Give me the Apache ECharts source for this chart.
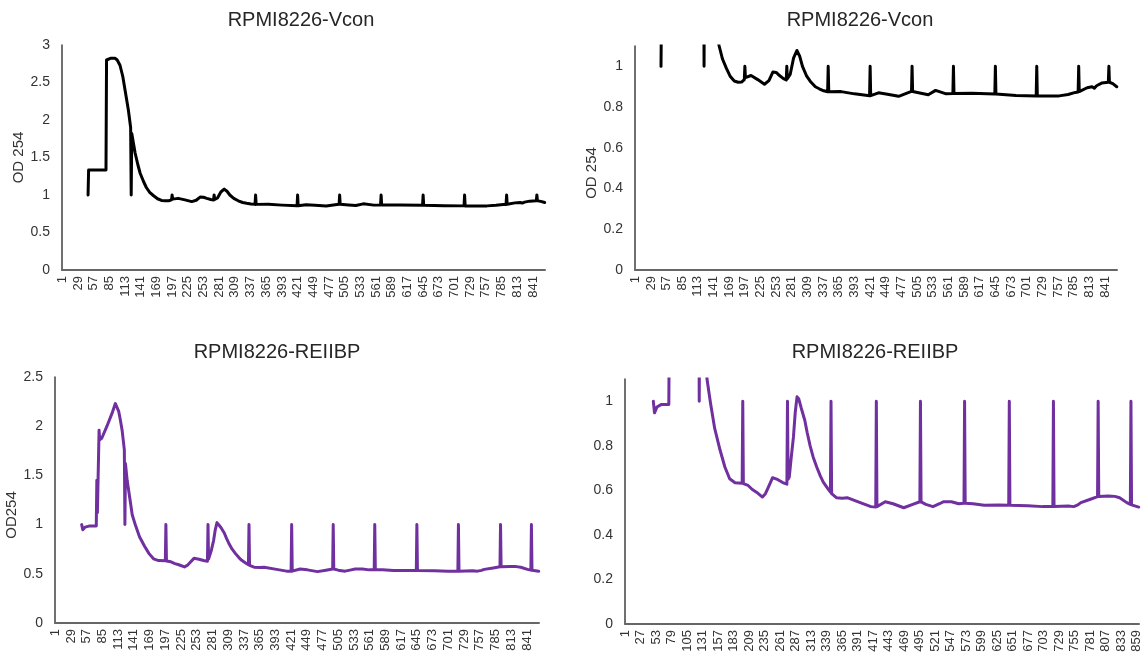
<!DOCTYPE html>
<html>
<head>
<meta charset="utf-8">
<script src="https://cdn.jsdelivr.net/npm/echarts@6/dist/echarts.min.js"></script>
<style>
  html, body { margin: 0; padding: 0; background: #ffffff; }
  #chart { width: 1144px; height: 660px; }
</style>
</head>
<body>
<div id="chart"></div>
<script>
// ---- data (sample number, OD254) ----
const sampleCount = 862;
const sampleLabels = [];
for (let i = 1; i <= sampleCount; i++) sampleLabels.push(String(i));

const panelTitles = ['RPMI8226-Vcon', 'RPMI8226-Vcon', 'RPMI8226-REIIBP', 'RPMI8226-REIIBP'];

const vconSample = [47, 48, 79, 80, 88, 95, 99, 104, 109, 113, 119, 123, 124, 125, 131, 136, 140, 146, 151, 157, 164, 171, 178, 185, 191, 196, 197, 198, 208, 220, 232, 240, 247, 253, 259, 266, 271, 272, 273, 278, 284, 290, 295, 300, 307, 315, 323, 330, 338, 345, 346, 347, 369, 393, 420, 421, 422, 436, 452, 472, 488, 495, 496, 497, 512, 525, 538, 557, 569, 570, 571, 603, 644, 645, 646, 682, 718, 719, 720, 759, 775, 788, 793, 794, 795, 809, 818, 822, 826, 835, 847, 848, 849, 855, 862];
const vconOD254 = [1.0, 1.333, 1.333, 2.80, 2.825, 2.825, 2.80, 2.73, 2.58, 2.40, 2.13, 1.90, 1.0, 1.82, 1.56, 1.40, 1.29, 1.18, 1.10, 1.036, 0.99, 0.95, 0.928, 0.922, 0.923, 0.935, 1.0, 0.945, 0.955, 0.935, 0.912, 0.93, 0.972, 0.97, 0.955, 0.94, 0.933, 1.0, 0.94, 0.96, 1.04, 1.078, 1.05, 1.0, 0.955, 0.923, 0.9, 0.89, 0.88, 0.875, 1.0, 0.875, 0.876, 0.865, 0.856, 1.0, 0.856, 0.87, 0.863, 0.853, 0.87, 0.877, 1.0, 0.877, 0.868, 0.861, 0.882, 0.865, 0.867, 1.0, 0.867, 0.868, 0.864, 1.0, 0.864, 0.857, 0.855, 1.0, 0.855, 0.855, 0.862, 0.872, 0.874, 1.0, 0.876, 0.895, 0.90, 0.893, 0.905, 0.918, 0.922, 1.0, 0.922, 0.915, 0.90];

const reiibpSample = [48, 50, 54, 61, 74, 75, 76, 78, 79, 80, 84, 93, 102, 108, 111, 114, 117, 120, 124, 125, 126, 129, 135, 138, 144, 151, 160, 168, 176, 185, 197, 198, 199, 207, 214, 221, 231, 236, 241, 248, 257, 265, 272, 273, 274, 276, 279, 283, 286, 289, 292, 296, 302, 306, 311, 316, 322, 328, 333, 340, 345, 346, 347, 355, 365, 373, 395, 413, 421, 422, 423, 437, 450, 468, 483, 495, 496, 497, 505, 517, 528, 535, 548, 560, 569, 570, 571, 584, 603, 627, 644, 645, 646, 676, 701, 718, 719, 720, 744, 753, 760, 765, 781, 793, 794, 795, 811, 822, 830, 842, 848, 849, 850, 862];
const reiibpOD254 = [1.0, 0.948, 0.974, 0.985, 0.985, 1.45, 1.12, 1.12, 1.96, 1.86, 1.88, 2.0, 2.13, 2.23, 2.22, 2.15, 2.06, 1.96, 1.76, 1.0, 1.62, 1.45, 1.22, 1.1, 0.99, 0.877, 0.78, 0.705, 0.652, 0.634, 0.632, 1.0, 0.63, 0.622, 0.604, 0.592, 0.57, 0.585, 0.615, 0.657, 0.648, 0.635, 0.628, 1.0, 0.65, 0.66, 0.74, 0.84, 0.95, 1.02, 1.01, 0.97, 0.915, 0.86, 0.80, 0.75, 0.705, 0.665, 0.637, 0.61, 0.592, 1.0, 0.585, 0.567, 0.565, 0.567, 0.545, 0.527, 0.525, 1.0, 0.527, 0.549, 0.54, 0.522, 0.537, 0.549, 1.0, 0.548, 0.537, 0.527, 0.54, 0.549, 0.549, 0.54, 0.542, 1.0, 0.542, 0.54, 0.533, 0.534, 0.533, 1.0, 0.533, 0.531, 0.527, 0.527, 1.0, 0.527, 0.53, 0.527, 0.535, 0.545, 0.56, 0.572, 1.0, 0.572, 0.575, 0.573, 0.567, 0.545, 0.537, 1.0, 0.535, 0.525];

const vconPairs = vconSample.map((s, i) => [String(s), vconOD254[i]]);
const reiibpPairs = reiibpSample.map((s, i) => [String(s), reiibpOD254[i]]);

// ---- layout ----
const FONT = 'Liberation Sans, Arial, sans-serif';
const grids = [
  { left: 62, top: 45, width: 483, height: 225 },
  { left: 635, top: 46, width: 482, height: 224 },
  { left: 55, top: 377, width: 484, height: 246 },
  { left: 625, top: 379, width: 514, height: 245 }
];
const yCfg = [
  { max: 3, interval: 0.5, showMax: true, name: 'OD 254', pad: [0, 0, 0, 0] },
  { max: 1.1, interval: 0.2, showMax: false, name: 'OD 254', pad: [0, 30, 0, 0] },
  { max: 2.5, interval: 0.5, showMax: true, name: 'OD254', pad: [0, 30, 0, 0] },
  { max: 1.1, interval: 0.2, showMax: false, name: '', pad: [0, 0, 0, 0] }
];
const xLabelStep = [27, 27, 27, 25];
const titlePos = [
  { x: 296, y: 5 }, { x: 855, y: 5 }, { x: 272, y: 337 }, { x: 870, y: 337 }
];
const colors = ['#000000', '#000000', '#7030A0', '#7030A0'];

const option = {
  animation: false,
  backgroundColor: '#ffffff',
  title: panelTitles.map((t, i) => ({
    text: t, left: titlePos[i].x, top: titlePos[i].y, textAlign: 'center',
    textStyle: { fontFamily: FONT, fontSize: 20, fontWeight: 'normal', color: '#262626' }
  })),
  grid: grids,
  xAxis: grids.map((g, i) => ({
    type: 'category', gridIndex: i, data: sampleLabels, boundaryGap: true,
    axisLine: { show: true, lineStyle: { color: '#666666', width: 2 } },
    axisTick: { show: false },
    splitLine: { show: false },
    axisLabel: {
      interval: xLabelStep[i], rotate: 90, margin: 6,
      fontFamily: FONT, fontSize: 13, color: '#333333'
    }
  })),
  yAxis: grids.map((g, i) => ({
    type: 'value', gridIndex: i, min: 0, max: yCfg[i].max, interval: yCfg[i].interval,
    name: yCfg[i].name, nameLocation: 'middle', nameGap: 36,
    nameTextStyle: { fontFamily: FONT, fontSize: 15, color: '#333333', padding: yCfg[i].pad },
    axisLine: { show: true, lineStyle: { color: '#404040', width: 1.5 } },
    axisTick: { show: false },
    splitLine: { show: false },
    axisLabel: {
      showMaxLabel: yCfg[i].showMax, margin: 12,
      fontFamily: FONT, fontSize: 14, color: '#333333'
    }
  })),
  series: [0, 1, 2, 3].map(i => ({
    type: 'line', xAxisIndex: i, yAxisIndex: i,
    data: i < 2 ? vconPairs : reiibpPairs,
    showSymbol: false, symbol: 'none', clip: true,
    lineStyle: { color: colors[i], width: 3, join: 'round', cap: 'round' }
  }))
};

const chart = echarts.init(document.getElementById('chart'), null, { renderer: 'canvas' });
chart.setOption(option);
</script>
</body>
</html>
